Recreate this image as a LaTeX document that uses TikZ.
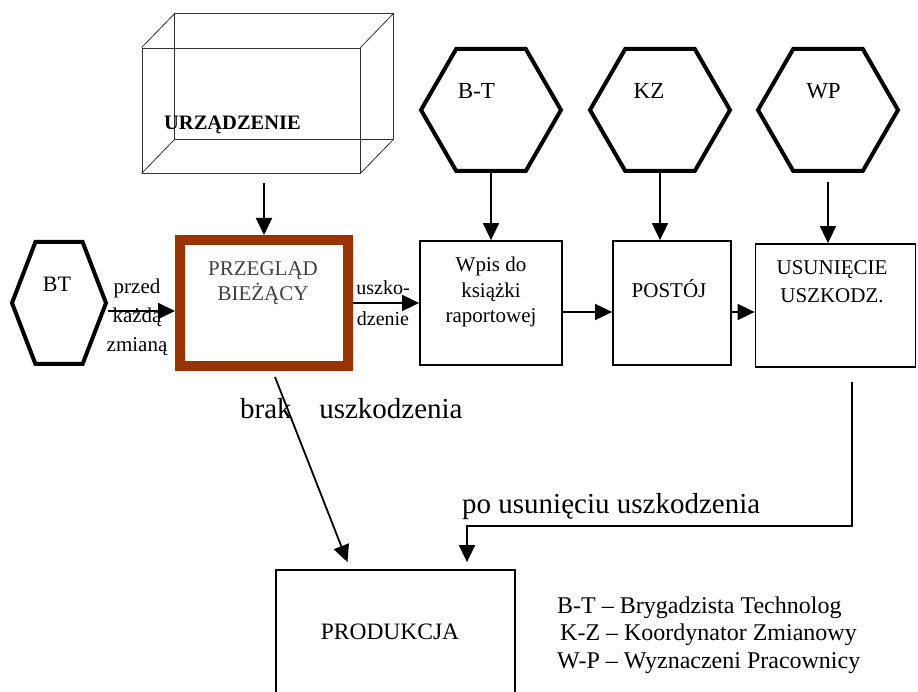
\documentclass[tikz,border=0pt]{standalone}
\usepackage{fontspec}
\setmainfont{Liberation Serif}
\usetikzlibrary{shapes.symbols,arrows.meta}
\definecolor{rust}{HTML}{993300}

\begin{document}
\begin{tikzpicture}[x=1pt,y=-1pt]
% Define styles
\tikzstyle{hexa}=[signal, signal to=west and east, signal pointer angle=120, draw=black, line width=4pt, minimum width=140pt, minimum height=122pt, inner sep=0pt]
\tikzstyle{box}=[rectangle, draw=black, line width=1.8pt, inner sep=0pt]
\tikzstyle{rustBox}=[rectangle, draw=rust, line width=10pt, minimum width=168pt, minimum height=126pt, inner sep=0pt]
\tikzstyle{txt}=[font=\fontsize{21pt}{25.5pt}\selectfont, align=center, inner sep=0pt, anchor=base]
\tikzstyle{bigTxt}=[font=\fontsize{29pt}{34pt}\selectfont, inner sep=0pt, anchor=base west]
\tikzstyle{arrow}=[-{Triangle[length=17pt,width=16pt]}, line width=1.8pt]

\useasboundingbox (0,0) rectangle (918,692);

% Draw device (cuboid)
\node[draw=black!80, line width=0.8pt, minimum width=218pt, minimum height=125pt] (dev) at (251,110.5) {};
\draw[black!80, line width=0.8pt] ([shift={(33pt,34pt)}]dev.north west) rectangle ([shift={(33pt,34pt)}]dev.south east);
\foreach \c in {north west, north east, south west, south east}
  \draw[black!80, line width=0.8pt] (dev.\c) -- ++(33,-34);
\node[font=\fontsize{20.5pt}{24pt}\selectfont\bfseries, inner sep=0pt, anchor=base] (devlbl) at (232.5,130) {URZĄDZENIE};

% Draw hexagons
\node[hexa, signal pointer angle=138, minimum width=94pt] (bt) at (59,303) {};
\node[font=\fontsize{22pt}{26pt}\selectfont, inner sep=0pt, anchor=base] (btlbl) at (57,292) {BT};
\node[hexa] (hbt) at (491,110) {};
\node[font=\fontsize{23pt}{27pt}\selectfont, inner sep=0pt, anchor=base] (hbtlbl) at (476.5,99) {B-T};
\node[hexa] (hkz) at (660,110) {};
\node[font=\fontsize{23pt}{27pt}\selectfont, inner sep=0pt, anchor=base] (hkzlbl) at (649,99) {KZ};
\node[hexa] (hwp) at (828,110) {};
\node[font=\fontsize{23pt}{27pt}\selectfont, inner sep=0pt, anchor=base] (hwplbl) at (823.5,99) {WP};

% Draw process boxes
\node[rustBox] (prz) at (264,303) {};
\node[txt, text=black!75] (przlbl) at (263,301) {PRZEGLĄD\\BIEŻĄCY};
\node[box, minimum width=142pt, minimum height=124pt] (wpis) at (491,303) {};
\node[txt] (wpislbl) at (491,323) {Wpis do\\książki\\raportowej};
\node[box, minimum width=118pt, minimum height=124pt] (postoj) at (672,303) {};
\node[txt] (postojlbl) at (669,298) {POSTÓJ};
\node[box, minimum width=160pt, minimum height=123pt] (usun) at (835.5,305.5) {};
\node[txt, font=\fontsize{21pt}{28pt}\selectfont] (usunlbl) at (832,303) {USUNIĘCIE\\USZKODZ.};
\node[box, minimum width=239pt, minimum height=130pt] (prod) at (395.5,635) {};
\node[txt, font=\fontsize{23.5pt}{27pt}\selectfont] (prodlbl) at (390,639) {PRODUKCJA};

% Labels
\node[txt, font=\fontsize{21pt}{29pt}\selectfont] (przed) at (137,352) {przed\\każdą\\zmianą};
\node[txt, font=\fontsize{20pt}{31pt}\selectfont] (uszko) at (383,326) {uszko-\\dzenie};
\node[bigTxt] (brak) at (240,418) {brak\hspace{0.95em}uszkodzenia};
\node[bigTxt] (pousun) at (462,513) {po usunięciu uszkodzenia};
\node[txt, align=left, anchor=base west, font=\fontsize{24pt}{27.5pt}\selectfont] (legend) at (557,668) {B-T -- Brygadzista Technolog\\\hspace{3pt}K-Z -- Koordynator Zmianowy\\W-P -- Wyznaczeni Pracownicy};

% Arrows
\draw[arrow] ([yshift=-10pt]dev.south -| prz.north) -- (prz.north);
\draw[arrow] ([yshift=-8pt]bt.east) -- ([yshift=-8pt]bt.east -| prz.west);
\draw[arrow] (prz.east) -- (wpis.west);
\draw[arrow] (hbt.south) -- (wpis.north);
\draw[arrow] (hkz.south) -- (hkz.south |- postoj.north);
\draw[arrow] ([yshift=-9pt]hwp.south) -- (hwp.south |- usun.north);
\draw[arrow] ([yshift=-9pt]wpis.east) -- ([yshift=-9pt]postoj.west);
\draw[arrow] ([yshift=-9pt]postoj.east) -- ([yshift=-9pt]postoj.east -| usun.west);
\draw[arrow] ([xshift=11pt,yshift=-6pt]prz.south) -- ([xshift=-48pt,yshift=7pt]prod.north);
\draw[arrow] ([xshift=16.5pt,yshift=-14pt]usun.south) -- ++(0,144) -| ([xshift=71.5pt,yshift=7pt]prod.north);
\end{tikzpicture}
\end{document}
